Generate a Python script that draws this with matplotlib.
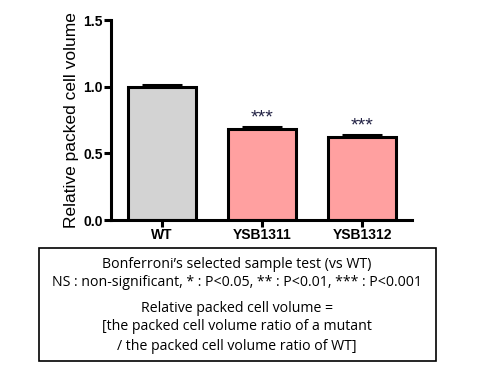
import numpy as np
import matplotlib.pyplot as plt
from matplotlib.patches import Rectangle

# data
strains = ["WT", "YSB1311", "YSB1312"]
values = [1.0, 0.68, 0.62]
errors = [0.01, 0.02, 0.015]
colors = ["#d3d3d3", "#ffa0a0", "#ffa0a0"]
marks = ["", "***", "***"]

note_lines = ["Bonferroni\u2019s selected sample test (vs WT)",
              "NS : non-significant, * : P<0.05, ** : P<0.01, *** : P<0.001"]
formula_lines = ["Relative packed cell volume =",
                 "[the packed cell volume ratio of a mutant",
                 "/ the packed cell volume ratio of WT]"]

plt.rcParams['font.family'] = ['Liberation Sans', 'DejaVu Sans']

fig = plt.figure(figsize=(4.8, 3.7), dpi=100)
ax = fig.add_axes([111/480, 1-220/370, 301/480, 200/370])

x = np.arange(len(strains))
ax.bar(x, values, width=0.68, color=colors, edgecolor="black", linewidth=2.2, zorder=2)
ax.errorbar(x, values, yerr=[np.zeros(3), errors], fmt="none", ecolor="black",
            elinewidth=2.2, capsize=0, zorder=1)
for xi, v, e in zip(x, values, errors):
    ax.plot([xi-0.2, xi+0.2], [v+e, v+e], color="black", lw=2.2, zorder=3, solid_capstyle="butt")
for xi, v, e, m in zip(x, values, errors, marks):
    if m:
        ax.text(xi, v+e+0.005, m, ha="center", va="bottom", fontsize=14, color="#222244")

ax.set_xlim(-0.51, 2.5)
ax.set_ylim(0, 1.5)
ax.set_yticks([0, 0.5, 1.0, 1.5])
ax.set_yticklabels(["0.0", "0.5", "1.0", "1.5"], fontsize=10, fontweight="bold")
ax.set_xticks(x)
ax.set_xticklabels(strains, fontsize=10, fontweight="bold")
ax.set_ylabel("Relative packed cell volume", fontsize=12.5, labelpad=3)
for s in ["top", "right"]:
    ax.spines[s].set_visible(False)
for s in ["left", "bottom"]:
    ax.spines[s].set_linewidth(2.2)
ax.tick_params(width=2.2, length=5, direction="out", pad=1)

# note box
fig.patches.append(Rectangle((39/480, 1-361/370), 397/480, 113/370, transform=fig.transFigure,
                             fill=False, edgecolor="black", linewidth=1.2))
cx = 237/480
for i, t in enumerate(note_lines):
    fig.text(cx, 1-(264+18*i)/370, t, ha="center", va="center", fontsize=10.2,
             family=["Open Sans", "DejaVu Sans"])
for i, t in enumerate(formula_lines):
    fig.text(cx, 1-(308+19*i)/370, t, ha="center", va="center", fontsize=10.2,
             family=["Open Sans", "DejaVu Sans"])

fig.savefig("out.png", dpi=100)
